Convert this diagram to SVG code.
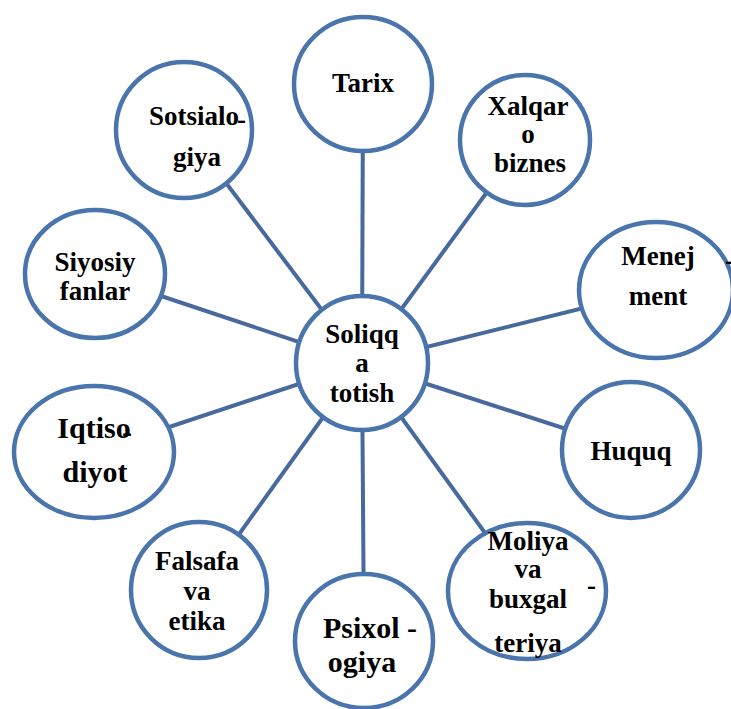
<svg xmlns="http://www.w3.org/2000/svg" width="731" height="709" viewBox="0 0 731 709">
  <style>
    .node { fill: #ffffff; stroke: #4A74AC; stroke-width: 4.5; }
    .link { stroke: #47699E; stroke-width: 4; stroke-linecap: butt; }
    .lbl { font-family: "Liberation Serif", "Times New Roman", serif; font-weight: bold; font-size: 27px; fill: #000000; text-anchor: middle; }
    .big { font-size: 30px; }
    .dash { text-anchor: start; }
  </style>
  <rect width="731" height="709" fill="#ffffff"/>

  <!-- spokes from the hub to each topic -->
  <g id="connectors">
    <line class="link" x1="362" y1="363" x2="363" y2="84"/>
    <line class="link" x1="362" y1="363" x2="525" y2="140"/>
    <line class="link" x1="362" y1="363" x2="656" y2="290"/>
    <line class="link" x1="362" y1="363" x2="631" y2="450"/>
    <line class="link" x1="362" y1="363" x2="527" y2="591"/>
    <line class="link" x1="362" y1="363" x2="364" y2="641"/>
    <line class="link" x1="362" y1="363" x2="199" y2="590"/>
    <line class="link" x1="362" y1="363" x2="94" y2="452"/>
    <line class="link" x1="362" y1="363" x2="95" y2="274"/>
    <line class="link" x1="362" y1="363" x2="186" y2="130"/>
  </g>

  <g id="hub">
    <ellipse class="node" cx="362" cy="363" rx="66" ry="67"/>
    <text class="lbl" x="362" y="343">Soliqq</text>
    <text class="lbl" x="362" y="372">a</text>
    <text class="lbl" x="362" y="402">totish</text>
  </g>

  <g id="tarix">
    <ellipse class="node" cx="363" cy="84" rx="69" ry="67"/>
    <text class="lbl" x="363" y="92">Tarix</text>
  </g>

  <g id="xalqaro-biznes">
    <ellipse class="node" cx="525" cy="140" rx="65" ry="65"/>
    <text class="lbl" x="528" y="115">Xalqar</text>
    <text class="lbl" x="528" y="143">o</text>
    <text class="lbl" x="530" y="172">biznes</text>
  </g>

  <g id="menejment">
    <ellipse class="node" cx="656" cy="290" rx="77" ry="68"/>
    <text class="lbl" x="658" y="265">Menej</text>
    <text class="lbl dash" x="725" y="269">-</text>
    <text class="lbl" x="658" y="305">ment</text>
  </g>

  <g id="huquq">
    <ellipse class="node" cx="631" cy="450" rx="69" ry="68"/>
    <text class="lbl" x="631" y="460">Huquq</text>
  </g>

  <g id="moliya">
    <ellipse class="node" cx="527" cy="591" rx="79" ry="68"/>
    <text class="lbl" x="528" y="550">Moliya</text>
    <text class="lbl" x="528" y="578">va</text>
    <text class="lbl" x="528" y="608">buxgal</text>
    <text class="lbl dash" x="587" y="594">-</text>
    <text class="lbl" x="528" y="652">teriya</text>
  </g>

  <g id="psixologiya">
    <ellipse class="node" cx="364" cy="641" rx="69" ry="67"/>
    <text class="lbl big" x="370" y="638">Psixol -</text>
    <text class="lbl big" x="362" y="672">ogiya</text>
  </g>

  <g id="falsafa">
    <ellipse class="node" cx="199" cy="590" rx="68" ry="68"/>
    <text class="lbl" x="197" y="570">Falsafa</text>
    <text class="lbl" x="197" y="600">va</text>
    <text class="lbl" x="197" y="630">etika</text>
  </g>

  <g id="iqtisodiyot">
    <ellipse class="node" cx="94" cy="452" rx="80" ry="66"/>
    <text class="lbl big" x="94" y="438">Iqtiso</text>
    <text class="lbl big dash" x="122" y="442">-</text>
    <text class="lbl big" x="95" y="482">diyot</text>
  </g>

  <g id="siyosiy-fanlar">
    <ellipse class="node" cx="95" cy="274" rx="70" ry="64"/>
    <text class="lbl" x="95" y="271">Siyosiy</text>
    <text class="lbl" x="95" y="300">fanlar</text>
  </g>

  <g id="sotsialogiya">
    <ellipse class="node" cx="184" cy="130" rx="68" ry="68"/>
    <text class="lbl" x="194" y="125">Sotsialo</text>
    <text class="lbl dash" x="237" y="128">-</text>
    <text class="lbl" x="197" y="166">giya</text>
  </g>
</svg>
